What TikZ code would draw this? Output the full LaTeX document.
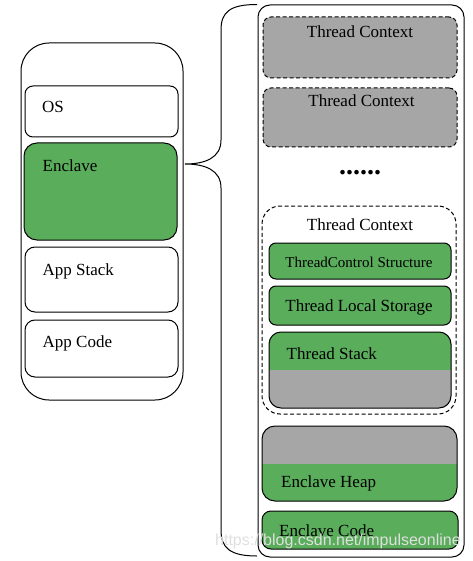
\documentclass[tikz,border=0pt]{standalone}
\usepackage{fontspec}
\setmainfont{Liberation Serif}
\newfontfamily\wmfont{Liberation Sans}
\definecolor{tgreen}{HTML}{5AAD5B}
\definecolor{tgray}{HTML}{A6A6A6}
\tikzset{
  box/.style={draw=black, line width=1pt, inner sep=0pt, outer sep=0pt},
  gbox/.style={box, fill=tgreen},
  dbox/.style={box, dashed, dash pattern=on 4pt off 2.5pt},
  lbl/.style={inner sep=0pt, font=\fontsize{17}{20}\selectfont},
  slbl/.style={inner sep=0pt, font=\fontsize{15}{18}\selectfont},
  lowgray/.style={path picture={\fill[tgray, sharp corners] (path picture bounding box.south west) rectangle (path picture bounding box.east);}},
  upgray/.style={path picture={\fill[tgray, sharp corners] (path picture bounding box.north west) rectangle (path picture bounding box.east);}},
}
\begin{document}
\begin{tikzpicture}[x=1pt,y=-1pt]
\useasboundingbox (0,0) rectangle (472,561);
% left column
\node[box, rounded corners=28pt, minimum width=162pt, minimum height=357pt] (outerL) at (102,221.5) {};
\node[box, rounded corners=8pt, minimum width=153pt, minimum height=51pt] (os) at (101.5,111.5) {};
\node[gbox, rounded corners=13pt, minimum width=153pt, minimum height=97pt] (encl) at (100.5,191.5) {};
\node[box, rounded corners=10pt, minimum width=153pt, minimum height=65pt] (appstack) at (101.5,279.5) {};
\node[box, rounded corners=10pt, minimum width=153pt, minimum height=57pt] (appcode) at (101.5,348.5) {};
\node[lbl, anchor=base west] (tos) at (42,113) {OS};
\node[lbl, anchor=base west] (tencl) at (42.5,172) {Enclave};
\node[lbl, anchor=base west] (tappstack) at (42.5,275) {App Stack};
\node[lbl, anchor=base west] (tappcode) at (42.5,347) {App Code};
% right column
\node[box, rounded corners=12pt, minimum width=206pt, minimum height=552pt] (outerR) at (361,281) {};
\node[dbox, fill=tgray, rounded corners=8pt, minimum width=194pt, minimum height=61pt] (tc1) at (360,47.5) {};
\node[dbox, fill=tgray, rounded corners=8pt, minimum width=194pt, minimum height=59pt] (tc2) at (360,117.5) {};
\node[dbox, fill=white, rounded corners=18pt, minimum width=194pt, minimum height=208pt] (tc3) at (359,310) {};
\node[gbox, rounded corners=7pt, minimum width=182pt, minimum height=36pt] (tcs) at (360,261) {};
\node[gbox, rounded corners=7pt, minimum width=182pt, minimum height=39pt] (tls) at (360,305.5) {};
\node[gbox, lowgray, rounded corners=12pt, minimum width=182pt, minimum height=76pt] (tstack) at (360,370) {};
\node[gbox, upgray, rounded corners=13pt, minimum width=195pt, minimum height=75pt] (heap) at (359.5,463.5) {};
\node[gbox, rounded corners=9pt, minimum width=196pt, minimum height=38pt] (ecode) at (360,530) {};
\node[lbl, anchor=base] (ttc1) at (360,38) {Thread Context};
\node[lbl, anchor=base] (ttc2) at (361.5,107) {Thread Context};
\node[inner sep=0pt, anchor=base, font=\fontsize{28}{30}\bfseries\selectfont] (dots) at (360,174.5) {......};
\node[lbl, anchor=base] (ttc3) at (360,230) {Thread Context};
\node[slbl, anchor=base] (ttcs) at (359,267) {ThreadControl Structure};
\node[lbl, anchor=base] (ttls) at (359,311.5) {Thread Local Storage};
\node[lbl, anchor=base west] (ttstack) at (286.5,359) {Thread Stack};
\node[lbl, anchor=base west] (theap) at (281,487) {Enclave Heap};
\node[lbl, anchor=base west] (tecode) at (279,536.5) {Enclave Code};
% brace
\coordinate (tip) at (185,164);
\coordinate (btop) at (257,4.5);
\coordinate (bbot) at (257,556);
\draw[line width=1pt] (btop) .. controls (230,4.5) and (221,12) .. (221,30) -- (221,140)
  .. controls (221,158) and (205,164) .. (tip)
  .. controls (205,164) and (221,170) .. (221,188) -- (221,530)
  .. controls (221,548) and (230,556) .. (bbot);
% watermark
\node[inner sep=0pt, anchor=base west, text=gray!25, font=\wmfont\fontsize{16}{18}\selectfont] (wm) at (215,545) {https://blog.csdn.net/impulseonline};
\end{tikzpicture}
\end{document}
